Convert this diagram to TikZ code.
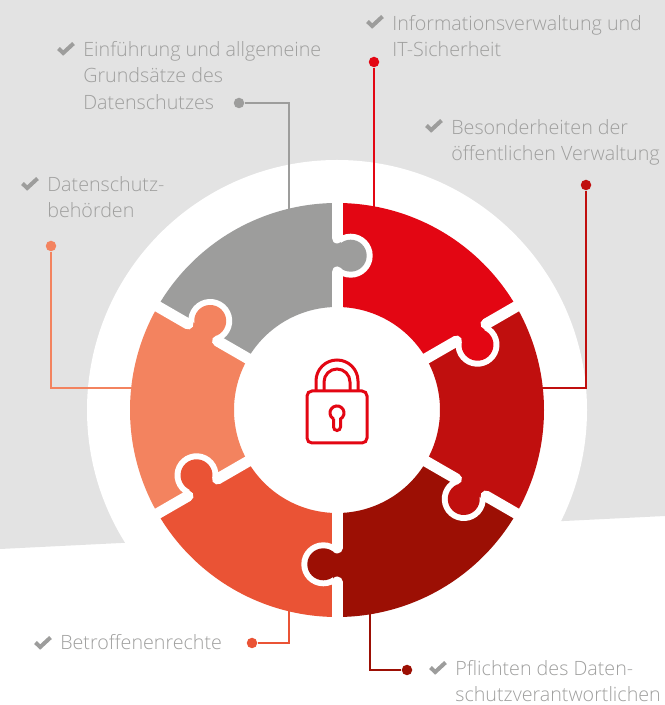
\documentclass[tikz,border=0pt]{standalone}
\usepackage{fontspec}
\setmainfont{Open Sans}[UprightFont=* Light]
\definecolor{bggray}{HTML}{E3E3E3}
\definecolor{textgray}{HTML}{9F9F9E}
\definecolor{piecegray}{HTML}{9D9D9C}
\definecolor{piecered}{HTML}{E30613}
\definecolor{piecedarkred}{HTML}{C00F0E}
\definecolor{piecemaroon}{HTML}{9C0F04}
\definecolor{piececoral}{HTML}{EA5335}
\definecolor{piecepeach}{HTML}{F3835F}
\tikzset{
    textlabel/.style={anchor=north west, inner sep=0pt, align=left, text=textgray,
        font=\fontsize{11.2}{15.1}\selectfont},
    endpoint/.style={circle, fill, inner sep=0pt, minimum size=2.1mm},
    connector/.style={line width=0.55mm},
    lockline/.style={draw=piecered, line width=0.6mm}
}
\newcommand{\drawsector}[2]{
    \begin{scope}[shift={(337,295)}, rotate=#2]
        \fill [#1] (90:103) -- (90:207) arc[start angle=90, end angle=150, radius=207] -- (150:103) arc[start angle=150, end angle=90, radius=103] -- cycle;
    \end{scope}
}
\newcommand{\drawknob}[2]{
    \begin{scope}[shift={(337,295)}, rotate=#2]
        \fill [white] (13.7,154.3) circle (22);
        \fill [#1] (13.7,154.3) circle (16);
        \fill [#1] (-11,138) rectangle (4,172);
        \draw [white, line width=2.2mm, line cap=round] (0,100) -- (0,138);
        \draw [white, line width=2.2mm, line cap=round] (0,172) -- (0,212);
    \end{scope}
}
\newcommand{\drawtick}[1]{
    \begin{scope}[shift={(#1)}]
        \draw [piecegray, line width=0.8mm] (-7.5,0.5) -- (-2.8,-4) -- (7.5,5.5);
    \end{scope}
}
\begin{document}
\begin{tikzpicture}[x=0.2mm, y=0.2mm]
    \useasboundingbox (0,0) rectangle (665,705);
    % background
    \fill [bggray] (0,156) -- (665,189) -- (665,705) -- (0,705) -- cycle;
    \fill [white] (337,295) circle (250);
    % connectors
    \node [endpoint, piecegray] (dotgray) at (239,602) {};
    \node [endpoint, piecered] (dotred) at (374,643) {};
    \node [endpoint, piecedarkred] (dotdarkred) at (586,520) {};
    \node [endpoint, piecepeach] (dotpeach) at (51,459) {};
    \node [endpoint, piececoral] (dotcoral) at (252,62) {};
    \node [endpoint, piecemaroon] (dotmaroon) at (407,35) {};
    \coordinate (edgegray) at (289,490);
    \coordinate (edgered) at (374,490);
    \coordinate (edgedarkred) at (530,317);
    \coordinate (edgepeach) at (145,317);
    \coordinate (edgecoral) at (289,105);
    \coordinate (edgemaroon) at (370,105);
    \draw [connector, piecegray] (dotgray) -| (edgegray);
    \draw [connector, piecered] (dotred) -- (edgered);
    \draw [connector, piecedarkred] (dotdarkred) |- (edgedarkred);
    \draw [connector, piecepeach] (dotpeach) |- (edgepeach);
    \draw [connector, piececoral] (dotcoral) -| (edgecoral);
    \draw [connector, piecemaroon] (dotmaroon) -| (edgemaroon);
    % puzzle ring
    \drawsector{piecegray}{0};
    \drawsector{piecered}{-60};
    \drawsector{piecedarkred}{-120};
    \drawsector{piecemaroon}{-180};
    \drawsector{piececoral}{-240};
    \drawsector{piecepeach}{-300};
    \drawknob{piecegray}{0};
    \drawknob{piecered}{-60};
    \drawknob{piecedarkred}{-120};
    \drawknob{piecemaroon}{-180};
    \drawknob{piececoral}{-240};
    \drawknob{piecepeach}{-300};
    % lock
    \begin{scope}[shift={(337,295)}]
        \draw [lockline, rounded corners=1mm] (-30,19) rectangle (30,-33);
        \draw [lockline] (-21,19) -- (-21,29) arc[start angle=180, end angle=0, radius=21] -- (21,19);
        \draw [lockline] (-13,19) -- (-13,28) arc[start angle=180, end angle=0, radius=13] -- (13,19);
        \draw [lockline] (-3.5,-9) -- (-3.5,-17) arc[start angle=180, end angle=360, radius=3.5] -- (3.5,-9) arc[start angle=-60, end angle=240, radius=7];
    \end{scope}
    % labels
    \drawtick{66,656};
    \node [textlabel] (labelgray) at (83,664) {Einführung und allgemeine\\Grundsätze des\\Datenschutzes};
    \drawtick{30,521};
    \node [textlabel] (labelpeach) at (47,529) {Datenschutz-\\behörden};
    \drawtick{375,683};
    \node [textlabel] (labelred) at (392,690) {Informationsverwaltung und\\IT-Sicherheit};
    \drawtick{434,579};
    \node [textlabel] (labeldarkred) at (451,586) {Besonderheiten der\\öffentlichen Verwaltung};
    \drawtick{43,62};
    \node [textlabel] (labelcoral) at (60,71) {Betroffenenrechte};
    \drawtick{438,37};
    \node [textlabel] (labelmaroon) at (455,45) {Pflichten des Daten-\\schutzverantwortlichen};
\end{tikzpicture}
\end{document}
